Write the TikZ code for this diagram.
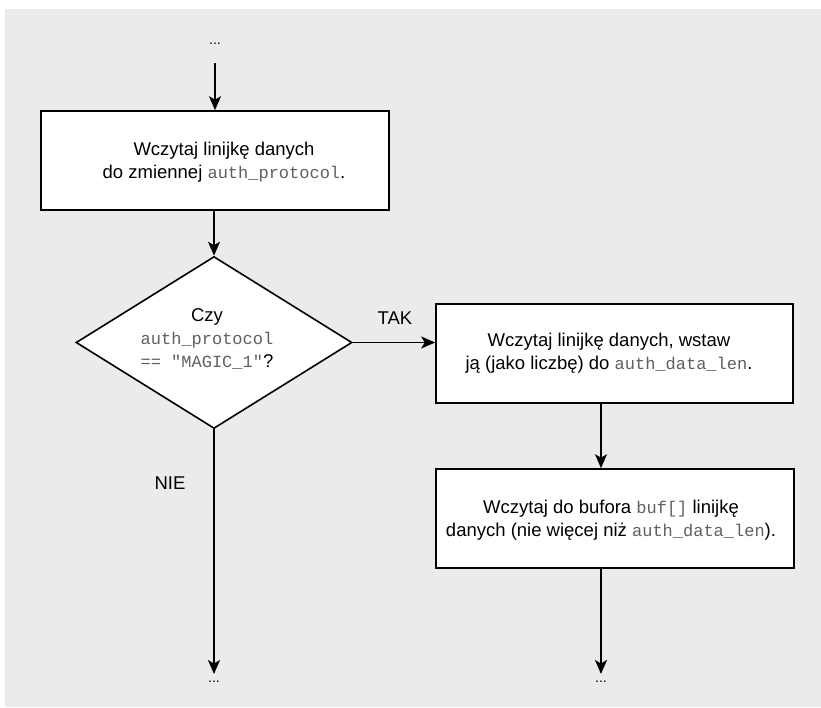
\documentclass[tikz,border=0pt]{standalone}
\usepackage{fontspec}
\setmainfont{Liberation Sans}
\newfontfamily\codefont{Liberation Mono}
\usetikzlibrary{shapes.geometric,arrows.meta}
\definecolor{panel}{HTML}{EBEBEB}
\definecolor{codegray}{HTML}{606060}
\newcommand\cd[1]{{\codefont\fontsize{17}{23}\selectfont\color{codegray}#1}}
\tikzset{
  txt/.style={font=\fontsize{18.5}{23}\selectfont, align=center, inner sep=0pt},
  stepbox/.style={draw=black, fill=white, line width=1.6pt, minimum height=99pt, inner sep=0pt},
  decision/.style={diamond, draw=black, fill=white, line width=1.6pt, inner sep=0pt,
    minimum width=276pt, minimum height=172pt},
  flow/.style={line width=1.8pt, -{Stealth[length=14pt,width=12pt,inset=3.5pt]}},
  dots/.style={font=\fontsize{14}{16}\selectfont, inner sep=0pt},
}
\begin{document}
\begin{tikzpicture}[x=1pt,y=-1pt]
  \useasboundingbox (0,0) rectangle (821,707);
  \fill[panel] (5,9) rectangle (821,707);

  % entry point
  \node[dots] (top) at (215,44) {...};
  \coordinate (topstart) at (215,63);

  % read the protocol line
  \node[stepbox, minimum width=348pt] (read) at (215,160.5) {};
  \node[txt] (readtxt) at (224,162) {Wczytaj linijkę danych\\ do zmiennej \cd{auth\_protocol}.};

  % decision
  \node[decision] (dec) at (214,342.5) {};
  \node[txt] (dectxt) at (207,339) {Czy\\ \cd{auth\_protocol}\\ \cd{== "MAGIC\_1"}?};

  % yes branch
  \node[stepbox, minimum width=357pt] (len) at (614.5,353.5) {};
  \node[txt] (lentxt) at (609,353) {Wczytaj linijkę danych, wstaw\\ ją (jako liczbę) do \cd{auth\_data\_len}.};

  \node[stepbox, minimum width=358pt] (buf) at (615,518.5) {};
  \node[txt] (buftxt) at (611,520) {Wczytaj do bufora \cd{buf[]} linijkę\\ danych (nie więcej niż \cd{auth\_data\_len}).};

  % branch labels
  \node[txt] (yes) at (395,318) {TAK};
  \node[txt] (no) at (170,483) {NIE};

  % continuation marks
  \coordinate (rcol) at (601,0);
  \coordinate (lend) at (214,674);
  \coordinate (rend) at (601,674);
  \node[dots] (ldots) at (214,682) {...};
  \node[dots] (rdots) at (601,682) {...};

  % connectors
  \draw[flow] (topstart) -- (read.north -| topstart);
  \draw[flow] (read.south -| dec.north) -- (dec.north);
  \draw[flow] (dec.east) -- (dec.east -| len.west);
  \draw[flow] (len.south -| rcol) -- (buf.north -| rcol);
  \draw[flow] (buf.south -| rcol) -- (rend);
  \draw[flow] (dec.south) -- (lend);
\end{tikzpicture}
\end{document}
